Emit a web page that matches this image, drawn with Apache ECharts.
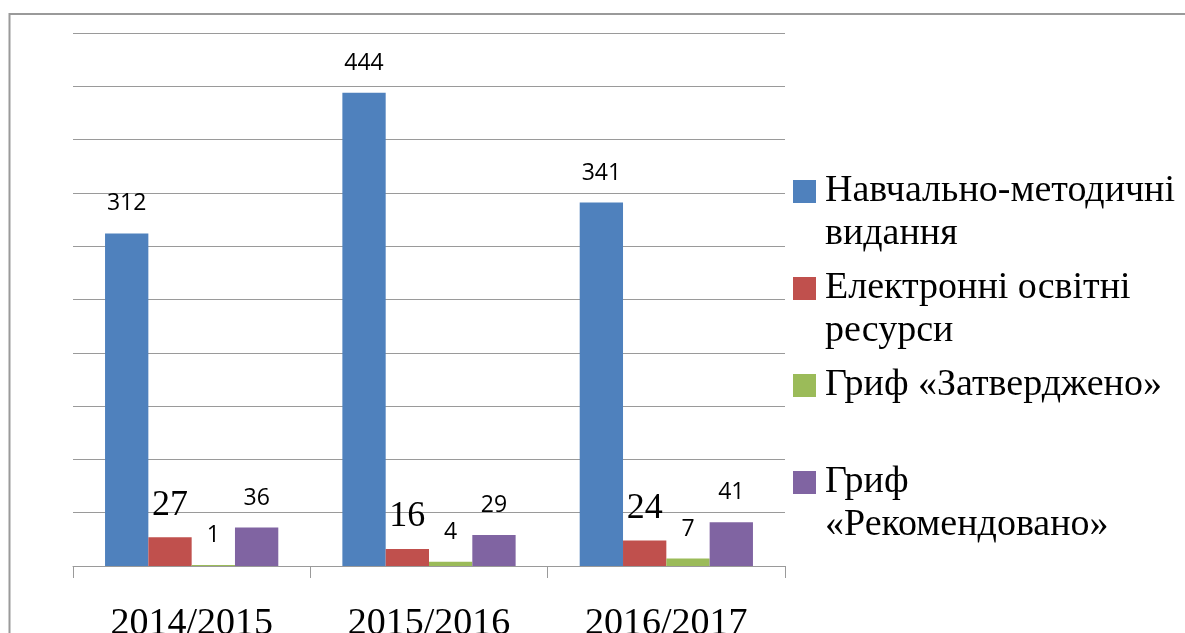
<!DOCTYPE html>
<html>
<head>
<meta charset="utf-8">
<script type="text/javascript" src="https://cdn.jsdelivr.net/npm/echarts@6/dist/echarts.min.js"></script>
<style>
    html, body { margin: 0; padding: 0; background: #fff; }
    #chart { width: 1185px; height: 633px; }
</style>
</head>
<body>
<div id="chart"></div>
<script type="text/javascript">
// data
var years = ['2014/2015', '2015/2016', '2016/2017'];
var seriesNames = ['Навчально-методичні видання', 'Електронні освітні ресурси', 'Гриф «Затверджено»', 'Гриф «Рекомендовано»'];
var methodical = [312, 444, 341];
var electronic = [27, 16, 24];
var approved = [1, 4, 7];
var recommended = [36, 29, 41];

// legend text, split like the original (square sits on the first line)
var legendText = {
    'Навчально-методичні видання': '\nНавчально-методичні\nвидання',
    'Електронні освітні ресурси': '\nЕлектронні освітні\nресурси',
    'Гриф «Затверджено»': '\nГриф «Затверджено»\n ',
    'Гриф «Рекомендовано»': '\nГриф\n«Рекомендовано»'
};

var colors = ['#4F81BD', '#C0504D', '#9BBB59', '#8064A2'];
var sansLabel = { show: true, position: 'top', distance: 18, color: '#000', fontFamily: 'Open Sans', fontSize: 23 };
var serifLabel = { show: true, position: 'top', distance: 14, color: '#000', fontFamily: 'Liberation Serif', fontSize: 36 };

var myChart = echarts.init(document.getElementById('chart'), null, { renderer: 'canvas' });
var option = {
    animation: false,
    color: colors,
    grid: { left: 73, right: 400, top: 33, bottom: 67, containLabel: false, outerBoundsMode: 'none' },
    graphic: [{
        type: 'rect',
        shape: { x: 9.5, y: 14, width: 1300, height: 700 },
        style: { fill: 'none', stroke: '#9a9a9a', lineWidth: 2 },
        silent: true
    }],
    legend: {
        orient: 'vertical',
        left: 793,
        top: 127,
        padding: 0,
        itemGap: -32,
        itemWidth: 23,
        itemHeight: 23,
        icon: 'rect',
        data: seriesNames,
        formatter: function (name) { return legendText[name]; },
        textStyle: { fontFamily: 'Liberation Serif', fontSize: 38, lineHeight: 43, color: '#000', padding: [0, 0, 0, 4] }
    },
    xAxis: {
        type: 'category',
        data: years,
        axisLine: { lineStyle: { color: '#9a9a9a', width: 1 } },
        axisTick: { show: true, length: 12, lineStyle: { color: '#9a9a9a' } },
        axisLabel: { margin: 39, color: '#000', fontFamily: 'Liberation Serif', fontSize: 38 }
    },
    yAxis: {
        type: 'value',
        min: 0,
        max: 500,
        interval: 50,
        axisLine: { show: false },
        axisTick: { show: false },
        axisLabel: { show: false },
        splitLine: { lineStyle: { color: '#9a9a9a', width: 1 } }
    },
    series: [
        { name: seriesNames[0], type: 'bar', data: methodical, barGap: '0%', barCategoryGap: '27%', label: sansLabel },
        { name: seriesNames[1], type: 'bar', data: electronic, barGap: '0%', barCategoryGap: '27%', label: serifLabel },
        { name: seriesNames[2], type: 'bar', data: approved, barGap: '0%', barCategoryGap: '27%', label: sansLabel },
        { name: seriesNames[3], type: 'bar', data: recommended, barGap: '0%', barCategoryGap: '27%', label: sansLabel }
    ]
};
myChart.setOption(option);
</script>
</body>
</html>
